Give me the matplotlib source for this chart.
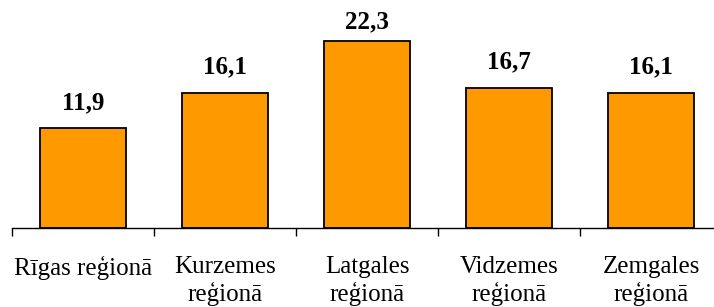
import matplotlib
matplotlib.use("Agg")
import matplotlib.pyplot as plt

regions = ["Rīgas reģionā", "Kurzemes\nreģionā", "Latgales\nreģionā",
           "Vidzemes\nreģionā", "Zemgales\nreģionā"]
values = [11.9, 16.1, 22.3, 16.7, 16.1]
value_labels = ["11,9", "16,1", "22,3", "16,7", "16,1"]

plt.rcParams['font.family'] = ['Liberation Serif', 'DejaVu Serif']

fig = plt.figure(figsize=(7.14, 3.07), dpi=100)
ax = fig.add_axes([12 / 714, 79 / 307, 710 / 714, 228 / 307])

x = list(range(len(values)))
ax.bar(x, values, width=0.6, color="#FF9900", edgecolor="black", linewidth=1.3)

ymax = 27.2
label_gap = 2.3    # in data units, above the bar top
label_cap = 23.8   # labels are kept inside the chart like in excel
for xi, v, lab in zip(x, values, value_labels):
    ax.text(xi, min(v + label_gap, label_cap), lab, ha="center", va="baseline",
            fontsize=18, fontweight="bold")

ax.set_xlim(-0.5, len(values) - 0.5)
ax.set_ylim(0, ymax)

for s in ["top", "right", "left"]:
    ax.spines[s].set_visible(False)
ax.spines["bottom"].set_linewidth(1.0)
ax.set_yticks([])

# ticks between the categories, labels under the bars
ax.set_xticks([i - 0.5 for i in range(len(values) + 1)])
ax.set_xticklabels([])
ax.tick_params(axis="x", which="major", length=6, width=1.0, direction="out")
ax.set_xticks(x, minor=True)
ax.set_xticklabels(regions, minor=True, fontsize=18, linespacing=1.22)
ax.tick_params(axis="x", which="minor", length=0, pad=20)

fig.savefig("out.png", dpi=100)
